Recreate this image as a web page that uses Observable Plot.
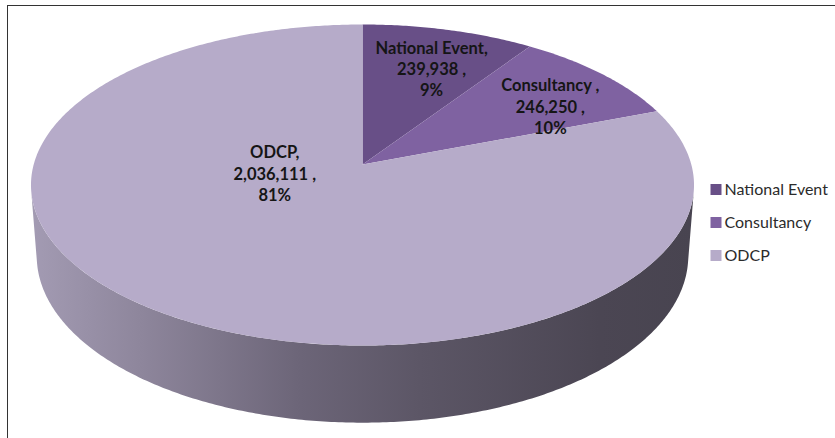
<!DOCTYPE html>
<html>
<head>
<meta charset="utf-8">
<script src="https://cdn.jsdelivr.net/npm/d3@7"></script>
<script src="https://cdn.jsdelivr.net/npm/@observablehq/plot@0.6"></script>
<style>
  html, body { margin: 0; padding: 0; background: #fff; overflow: hidden; width: 835px; height: 438px; }
  #wrap { position: relative; width: 835px; height: 438px; overflow: hidden; }
  #frame { position: absolute; left: 6.5px; top: 4.5px; width: 900px; height: 500px;
           border-left: 1.5px solid #333; border-top: 1.5px solid #333; }
  #chart { position: absolute; left: 0; top: 0; }
  #legend { position: absolute; left: 700px; top: 170px; }
</style>
</head>
<body>
<div id="wrap">
  <div id="frame"></div>
  <div id="chart"></div>
  <div id="legend"></div>
</div>
<script>
// ---- data ----
const categories = ["National Event", "Consultancy ", "ODCP"];
const values = [239938, 246250, 2036111];
const percentLabels = ["9%", "10%", "81%"];
const colors = ["#684f87", "#7f62a1", "#b6abc9"];

// ---- layout (3-D pie view) ----
const view = { cx: 362, cy: 164, w: 328.8, k: 0.1456, tilt: 28.7 * Math.PI / 180, depth: 0.249 };
const sinT = Math.sin(view.tilt), cosT = Math.cos(view.tilt);
// label placement on the top face: [angle in degrees clockwise from 12 o'clock, radius fraction]
const labelSpots = [[19, 0.70], [57, 0.715], [259, 0.27]];
// side shading stops (left → right)
const sideStops = [[0, "#a39bb3"], [0.164, "#8e869c"], [0.406, "#6c6578"], [0.587, "#5c5666"], [0.858, "#4b4653"], [1, "#484450"]];

// perspective projection of model coordinates: X (right), Z (back), Y (up), in pie radii
function persp(X, Z, Y = 0) {
  const den = 1 + view.k * (Z * cosT - Y * sinT);
  return [view.cx + view.w * X / den, view.cy - view.w * (Z * sinT + Y * cosT) / den];
}
const projection = d3.geoTransform({
  point(x, y, z) { const p = persp(x, y, z || 0); this.stream.point(p[0], p[1]); }
});

// ---- geometry from the data ----
const arcs = d3.pie().sort(null).value(d => d)(values);
const rim = (a, Y = 0) => [Math.sin(a), Math.cos(a), Y];
function arcPoints(a0, a1, Y = 0) {
  const n = Math.max(2, Math.ceil(Math.abs(a1 - a0) / 0.01));
  return d3.range(n + 1).map(i => rim(a0 + (a1 - a0) * i / n, Y));
}
const topFaces = arcs.map((a, i) => ({
  type: "Feature",
  properties: { name: categories[i] },
  geometry: { type: "Polygon", coordinates: [[[0, 0, 0], ...arcPoints(a.startAngle, a.endAngle), [0, 0, 0]]] }
}));
// visible part of the outer wall
const visLimit = Math.acos(-view.k / cosT);
const vis0 = visLimit, vis1 = 2 * Math.PI - visLimit;
const sides = [];
arcs.forEach((a, i) => {
  const s0 = Math.max(a.startAngle, vis0), s1 = Math.min(a.endAngle, vis1);
  if (s1 > s0) {
    const top = arcPoints(s0, s1, 0);
    const bottom = arcPoints(s1, s0, -view.depth);
    sides.push({
      type: "Feature",
      properties: { name: categories[i] },
      geometry: { type: "Polygon", coordinates: [[...top, ...bottom, top[0]]] }
    });
  }
});

const fmt = d3.format(",");
const labels = arcs.map((a, i) => {
  const ang = labelSpots[i][0] * Math.PI / 180, r = labelSpots[i][1];
  return {
    X: r * Math.sin(ang), Z: r * Math.cos(ang),
    text: `${categories[i]},\n${fmt(values[i])} ,\n${percentLabels[i]}`
  };
});

const gradientDefs = () => {
  const defs = d3.create("svg:defs");
  const g = defs.append("linearGradient").attr("id", "side-shade")
    .attr("x1", 0).attr("x2", 1).attr("y1", 0).attr("y2", 0);
  sideStops.forEach(([o, c]) => g.append("stop").attr("offset", o).attr("stop-color", c));
  return defs.node();
};

const chart = Plot.plot({
  width: 835,
  height: 438,
  margin: 0,
  projection,
  color: { domain: categories, range: colors },
  style: { fontFamily: "Lato, sans-serif", background: "transparent", overflow: "visible" },
  marks: [
    gradientDefs,
    Plot.geo(sides, { fill: "url(#side-shade)", stroke: "none" }),
    Plot.geo(topFaces, { fill: d => d.properties.name, stroke: "none" }),
    Plot.text(labels, {
      x: "X", y: "Z", text: "text",
      fontSize: 16.5, fontWeight: "bold", lineHeight: 1.3,
      fill: "#151515", textAnchor: "middle"
    })
  ]
});
document.getElementById("chart").append(chart);

// ---- legend ----
const legendRows = categories.map(c => ({ name: c }));
const legend = Plot.plot({
  width: 135,
  height: 104,
  margin: 0,
  x: { domain: [0, 1], range: [15.5, 24], axis: null },
  y: { type: "point", domain: categories, range: [19, 85], padding: 0, axis: null },
  color: { domain: categories, range: colors },
  style: { fontFamily: "Lato, sans-serif", background: "transparent", overflow: "visible" },
  marks: [
    Plot.dot(legendRows, { x: () => 0, y: "name", symbol: "square", r: 11 / Math.sqrt(Math.PI), fill: "name", stroke: "none" }),
    Plot.text(legendRows, { x: () => 1, y: "name", text: d => d.name.trim(), textAnchor: "start", fontSize: 16, fill: "#2b2b2b" })
  ]
});
document.getElementById("legend").append(legend);
</script>
</body>
</html>
